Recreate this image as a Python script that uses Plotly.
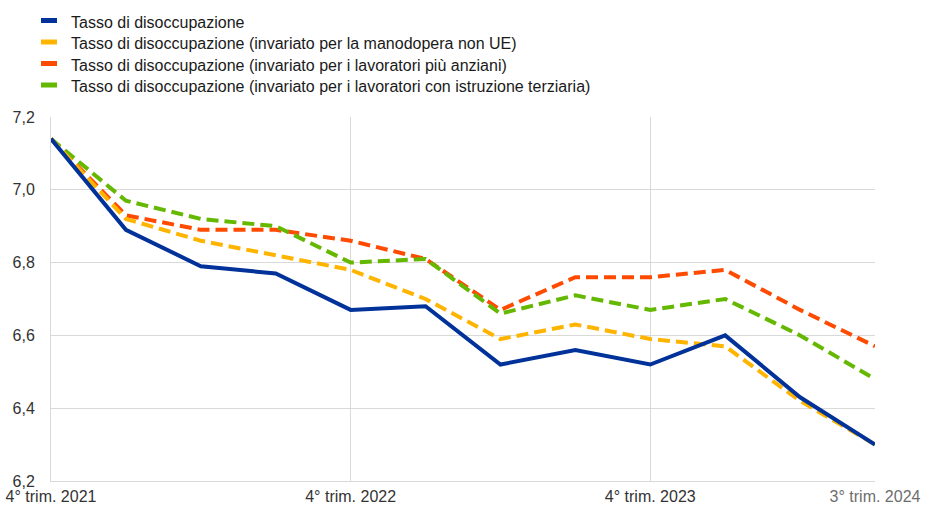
import plotly.graph_objects as go

# Quarters from 4th quarter 2021 to 3rd quarter 2024
quarters = ["4° trim. 2021", "1° trim. 2022", "2° trim. 2022", "3° trim. 2022",
            "4° trim. 2022", "1° trim. 2023", "2° trim. 2023", "3° trim. 2023",
            "4° trim. 2023", "1° trim. 2024", "2° trim. 2024", "3° trim. 2024"]

tasso = [7.14, 6.89, 6.79, 6.77, 6.67, 6.68, 6.52, 6.56, 6.52, 6.60, 6.43, 6.30]
inv_non_ue = [7.14, 6.92, 6.86, 6.82, 6.78, 6.70, 6.59, 6.63, 6.59, 6.57, 6.42, 6.30]
inv_anziani = [7.14, 6.93, 6.89, 6.89, 6.86, 6.81, 6.67, 6.76, 6.76, 6.78, 6.67, 6.57]
inv_terziaria = [7.14, 6.97, 6.92, 6.90, 6.80, 6.81, 6.66, 6.71, 6.67, 6.70, 6.60, 6.48]

series_names = [
    "Tasso di disoccupazione",
    "Tasso di disoccupazione (invariato per la manodopera non UE)",
    "Tasso di disoccupazione (invariato per i lavoratori più anziani)",
    "Tasso di disoccupazione (invariato per i lavoratori con istruzione terziaria)",
]
series_values = [tasso, inv_non_ue, inv_anziani, inv_terziaria]
colors = ["#003299", "#ffb400", "#ff4b00", "#65b800"]
dashes = ["solid", "12px,6px", "12px,6px", "12px,6px"]

tick_pos = [0, 4, 8, 11]
tick_text = ["4° trim. 2021", "4° trim. 2022", "4° trim. 2023",
             '<span style="color:#6e6e6e">3° trim. 2024</span>']

x = list(range(len(quarters)))

W, H = 925, 506
M_L, M_R, M_T, M_B = 51, 50, 117, 25
PW, PH = W - M_L - M_R, H - M_T - M_B


def px_to_paper(px, py):
    return (px - M_L) / PW, (H - M_B - py) / PH


fig = go.Figure()

# draw order: dashed series first, solid series on top of yellow
order = [2, 3, 1, 0]
for i in order:
    fig.add_trace(go.Scatter(
        x=x, y=series_values[i], mode="lines", name=series_names[i],
        line=dict(color=colors[i], width=4, dash=dashes[i]),
        showlegend=False, hoverinfo="skip",
    ))

font_family = "Liberation Sans, Arial, sans-serif"

# legend block above the plot: short solid key bars with labels
shapes = []
annotations = []
row_px = [22, 43.5, 65, 86.5]
for name, c, ry in zip(series_names, colors, row_px):
    x0, y0 = px_to_paper(41, ry - 1.5)
    x1, _ = px_to_paper(57, ry - 1.5)
    shapes.append(dict(type="line", xref="paper", yref="paper",
                       x0=x0, x1=x1, y0=y0, y1=y0,
                       line=dict(color=c, width=5)))
    tx, ty = px_to_paper(69, ry)
    annotations.append(dict(text=name, xref="paper", yref="paper",
                            x=tx, y=ty, xanchor="left", yanchor="middle",
                            showarrow=False,
                            font=dict(size=16, color="#1a1a1a", family=font_family)))

fig.update_layout(
    width=W, height=H,
    margin=dict(l=M_L, r=M_R, t=M_T, b=M_B, autoexpand=False),
    paper_bgcolor="white", plot_bgcolor="white",
    separators=",.",
    font=dict(family=font_family, size=16, color="#333333"),
    showlegend=False,
    shapes=shapes,
    annotations=annotations,
    xaxis=dict(
        range=[0, 11], tickvals=tick_pos, ticktext=tick_text,
        showgrid=False, zeroline=False, automargin=False,
        showline=True, linecolor="#d9d9d9", linewidth=1,
        ticks="", ticklabelstandoff=1,
        minor=dict(tickvals=[4, 8], showgrid=True, gridcolor="#d9d9d9", gridwidth=1, ticks=""),
        tickfont=dict(size=16, color="#333333"),
    ),
    yaxis=dict(
        range=[6.2, 7.2], dtick=0.2, tick0=6.2, tickformat=".1f",
        showgrid=True, gridcolor="#d9d9d9", gridwidth=1, zeroline=False,
        automargin=False,
        showline=True, linecolor="#d9d9d9", linewidth=1,
        ticks="", ticklabelstandoff=12,
        tickfont=dict(size=16, color="#333333"),
    ),
)

fig.write_html("out.html")
